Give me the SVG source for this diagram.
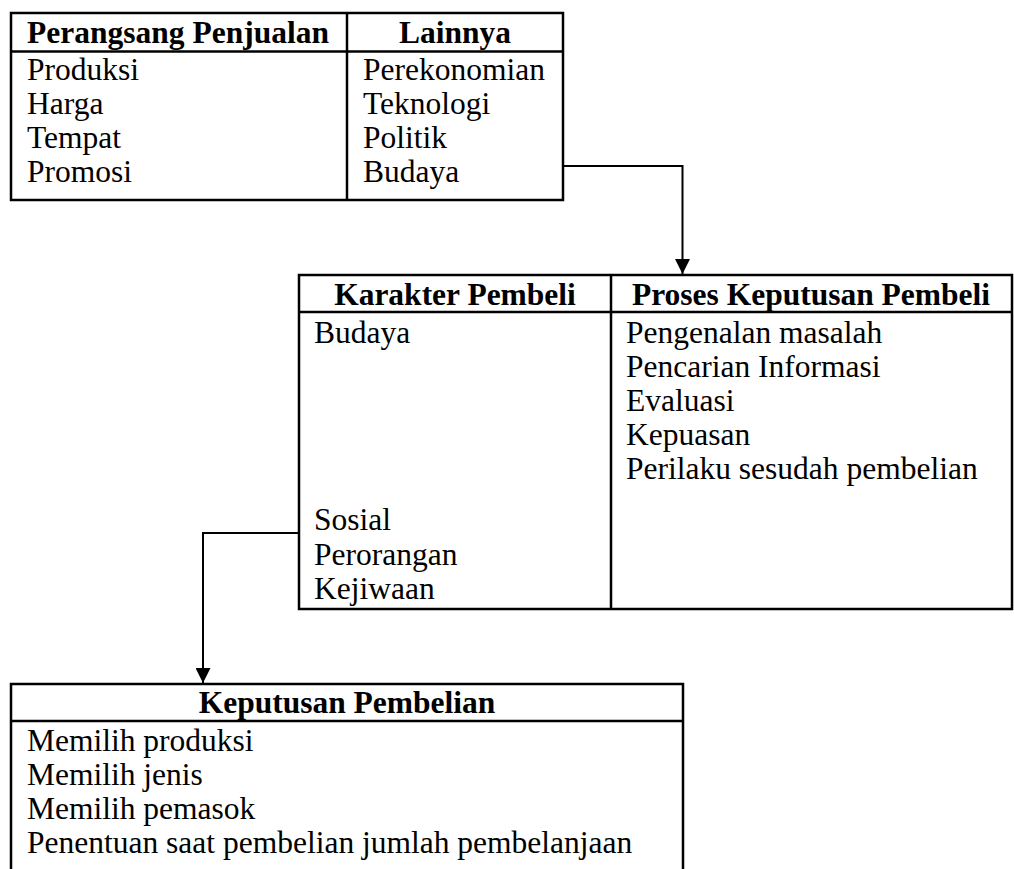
<svg xmlns="http://www.w3.org/2000/svg" width="1014" height="869" viewBox="0 0 1014 869">
<style>
.b{fill:none;stroke:#000;stroke-width:2.5}
.c{fill:none;stroke:#000;stroke-width:2}
text{font-family:"Liberation Serif","Times New Roman",serif;font-size:31.5px;fill:#000}
.h{font-weight:bold;text-anchor:middle}
</style>
<defs>
<marker id="arr" markerWidth="15" markerHeight="15" refX="15" refY="7.5" orient="auto" markerUnits="userSpaceOnUse">
<path d="M0,0 L15,7.5 L0,15 Z" fill="#000"/>
</marker>
</defs>
<rect width="1014" height="869" fill="#fff"/>
<g id="stimuli">
<rect class="b" x="11" y="13" width="552" height="187"/>
<line class="b" x1="11" y1="51.5" x2="563" y2="51.5"/>
<line class="b" x1="347" y1="13" x2="347" y2="200"/>
<text class="h" x="178" y="43">Perangsang Penjualan</text>
<text class="h" x="455" y="43">Lainnya</text>
<text x="27" y="80">Produksi</text>
<text x="27" y="114">Harga</text>
<text x="27" y="148">Tempat</text>
<text x="27" y="182">Promosi</text>
<text x="363" y="80">Perekonomian</text>
<text x="363" y="114">Teknologi</text>
<text x="363" y="148">Politik</text>
<text x="363" y="182">Budaya</text>
</g>
<g id="buyer">
<rect class="b" x="299" y="275" width="713" height="334"/>
<line class="b" x1="299" y1="312" x2="1012" y2="312"/>
<line class="b" x1="611" y1="275" x2="611" y2="609"/>
<text class="h" x="455" y="305">Karakter Pembeli</text>
<text class="h" x="811" y="305">Proses Keputusan Pembeli</text>
<text x="314" y="343">Budaya</text>
<text x="314" y="530">Sosial</text>
<text x="314" y="565">Perorangan</text>
<text x="314" y="599">Kejiwaan</text>
<text x="626" y="343">Pengenalan masalah</text>
<text x="626" y="377">Pencarian Informasi</text>
<text x="626" y="411">Evaluasi</text>
<text x="626" y="445">Kepuasan</text>
<text x="626" y="479">Perilaku sesudah pembelian</text>
</g>
<g id="decision">
<path class="b" d="M11,869 L11,684 L683,684 L683,869"/>
<line class="b" x1="11" y1="721" x2="683" y2="721"/>
<text class="h" x="347" y="713">Keputusan Pembelian</text>
<text x="27" y="751">Memilih produksi</text>
<text x="27" y="785">Memilih jenis</text>
<text x="27" y="819">Memilih pemasok</text>
<text x="27" y="853">Penentuan saat pembelian jumlah pembelanjaan</text>
</g>
<g id="connectors">
<path class="c" d="M563,166 L682.5,166 L682.5,274" marker-end="url(#arr)"/>
<path class="c" d="M299,533 L203,533 L203,683" marker-end="url(#arr)"/>
</g>
</svg>
